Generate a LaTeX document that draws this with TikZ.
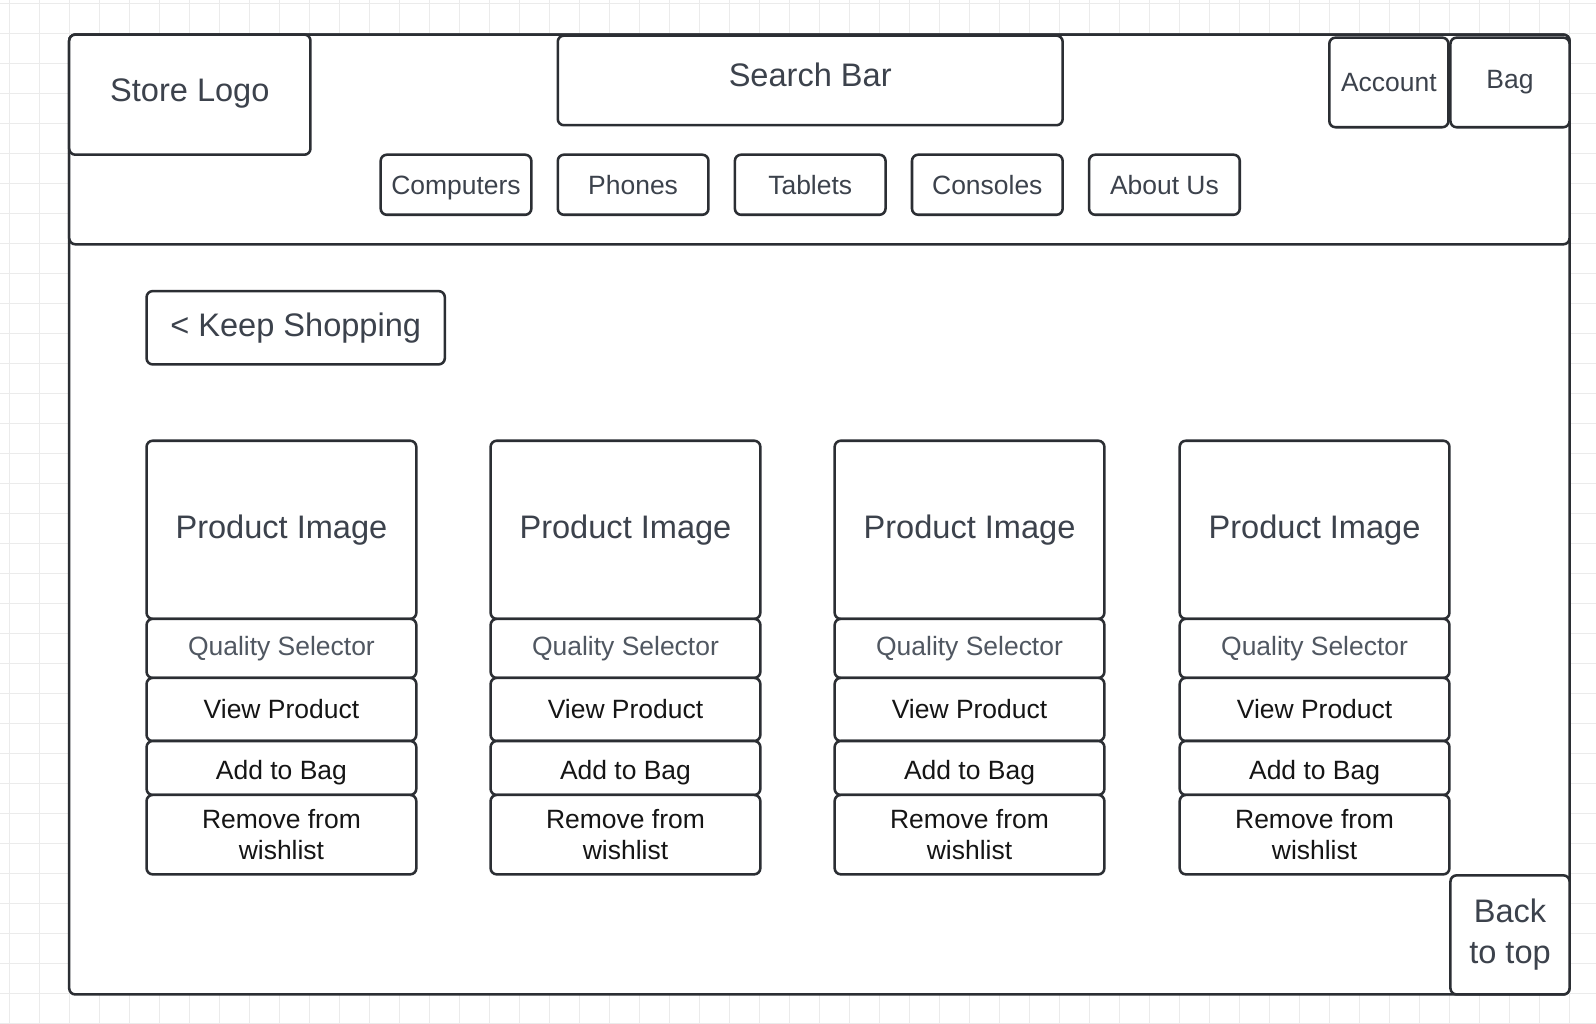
\documentclass[tikz,border=0pt]{standalone}
\usepackage{fontspec}
\setmainfont{Liberation Sans}
\usepackage{tikz}
\usetikzlibrary{positioning}

\definecolor{linec}{HTML}{2B2E33}
\definecolor{txtg}{HTML}{3C424C}
\definecolor{txtq}{HTML}{505761}
\definecolor{txtb}{HTML}{151515}
\definecolor{gridc}{HTML}{EBEBEB}

\tikzset{
  box/.style={draw=linec, line width=2.5pt, rounded corners=6pt, fill=white,
              inner sep=0pt, align=center, text=txtg},
  big/.style={font=\fontsize{32}{40}\selectfont},
  small/.style={font=\fontsize{26}{31}\selectfont},
  btn/.style={box, small, minimum width=148, minimum height=59},
  prod/.style={box, minimum width=265},
}

\begin{document}
\begin{tikzpicture}[x=1pt, y=-1pt]
      \useasboundingbox (0,0) rectangle (1568,1006);
      % canvas grid
      \foreach \i in {0,...,52} \draw[gridc, line width=1pt] ({9.8+29.47*\i},0) -- ({9.8+29.47*\i},1006);
      \foreach \j in {0,...,34} \draw[gridc, line width=1pt] (0,{3.9+29.47*\j}) -- (1568,{3.9+29.47*\j});
      % page and header
      \node[box, minimum width=1474, minimum height=943] (page) at (805,505.5) {};
      \node[box, minimum width=1474, minimum height=206] (header) at (805,137) {};
      \node[box, big, minimum width=237, minimum height=118, text depth=8pt] (logo) at (186.5,93) {Store Logo};
      \node[box, big, minimum width=496, minimum height=88, text depth=12pt] (search) at (796,79) {Search Bar};
      \node[box, small, minimum width=117, minimum height=88] (account) at (1364.5,81) {Account};
      \node[box, small, minimum width=117, minimum height=88] (bag) at (1483.5,81) {Bag};
      % nav
      \node[btn, text height=18.6pt, text depth=0pt] (computers) at (448,181.5) {Computers};
      \node[btn] (phones) at (622,181.5) {Phones};
      \node[btn] (tablets) at (796,181.5) {Tablets};
      \node[btn] (consoles) at (970,181.5) {Consoles};
      \node[btn] (about) at (1144,181.5) {About Us};
      \node[box, big, minimum width=293, minimum height=72] (keep) at (290.5,322) {< Keep Shopping};
      % product 1
      \node[prod, big, minimum height=175] (img1) at (276.5,520.5) {Product Image};
      \node[prod, small, text=txtq, minimum height=58] (qual1) at (276.5,637) {Quality Selector};
      \node[prod, small, text=txtb, minimum height=62] (view1) at (276.5,697) {View Product};
      \node[prod, small, text=txtb, minimum height=53, text height=22pt, text depth=0pt] (add1) at (276.5,754.5) {Add to Bag};
      \node[prod, small, text=txtb, minimum height=78] (rem1) at (276.5,820) {Remove from\\wishlist};
      % product 2
      \node[prod, big, minimum height=175] (img2) at (614.5,520.5) {Product Image};
      \node[prod, small, text=txtq, minimum height=58] (qual2) at (614.5,637) {Quality Selector};
      \node[prod, small, text=txtb, minimum height=62] (view2) at (614.5,697) {View Product};
      \node[prod, small, text=txtb, minimum height=53, text height=22pt, text depth=0pt] (add2) at (614.5,754.5) {Add to Bag};
      \node[prod, small, text=txtb, minimum height=78] (rem2) at (614.5,820) {Remove from\\wishlist};
      % product 3
      \node[prod, big, minimum height=175] (img3) at (952.5,520.5) {Product Image};
      \node[prod, small, text=txtq, minimum height=58] (qual3) at (952.5,637) {Quality Selector};
      \node[prod, small, text=txtb, minimum height=62] (view3) at (952.5,697) {View Product};
      \node[prod, small, text=txtb, minimum height=53, text height=22pt, text depth=0pt] (add3) at (952.5,754.5) {Add to Bag};
      \node[prod, small, text=txtb, minimum height=78] (rem3) at (952.5,820) {Remove from\\wishlist};
      % product 4
      \node[prod, big, minimum height=175] (img4) at (1291.5,520.5) {Product Image};
      \node[prod, small, text=txtq, minimum height=58] (qual4) at (1291.5,637) {Quality Selector};
      \node[prod, small, text=txtb, minimum height=62] (view4) at (1291.5,697) {View Product};
      \node[prod, small, text=txtb, minimum height=53, text height=22pt, text depth=0pt] (add4) at (1291.5,754.5) {Add to Bag};
      \node[prod, small, text=txtb, minimum height=78] (rem4) at (1291.5,820) {Remove from\\wishlist};
      % back to top
      \node[box, font=\fontsize{32}{40}\selectfont, minimum width=117, minimum height=117] (backtop) at (1483.5,918.5) {Back\\to top};
\end{tikzpicture}
\end{document}
